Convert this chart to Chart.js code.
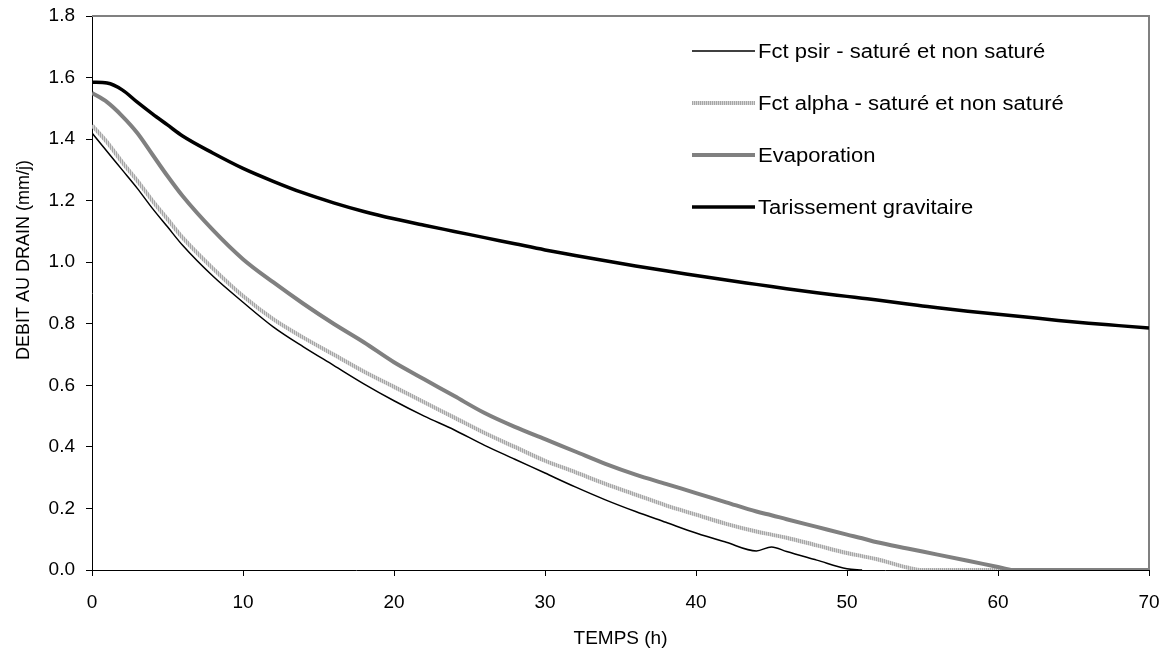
<!DOCTYPE html>
<html>
<head>
<meta charset="utf-8">
<script src="https://cdn.jsdelivr.net/npm/chart.js@4"></script>
<style>
html,body{margin:0;padding:0;background:#fff;}
#wrap{width:1172px;height:652px;position:relative;}
</style>
</head>
<body>
<div id="wrap"><canvas id="c" width="1172" height="652"></canvas></div>
<script>
// ---- DATA ----
const temps = [0,1,2,3,4,5,6,8,10,12,14,16,18,20,22,24,26,28,30,32,34,36,38,40,42,44,45,46,48,50,51,52,54,55,56,58,60,61,62,64,66,68,70];

const psir = [1.42,1.36,1.30,1.24,1.175,1.115,1.055,0.955,0.87,0.79,0.725,0.665,0.605,0.55,0.50,0.455,0.405,0.36,0.315,0.27,0.228,0.19,0.155,0.12,0.09,0.062,0.075,0.06,0.032,0.004,0,
  null,null,null,null,null,null,null,null,null,null,null,null];

const alpha = [1.445,1.39,1.325,1.265,1.20,1.14,1.08,0.98,0.89,0.815,0.755,0.70,0.645,0.595,0.545,0.495,0.445,0.40,0.355,0.318,0.28,0.245,0.21,0.18,0.15,0.125,0.115,0.105,0.08,0.055,0.045,0.035,0.008,0,0,0,0,0,0,0,0,0,0];

const evaporation = [1.55,1.52,1.475,1.42,1.35,1.28,1.215,1.105,1.01,0.935,0.865,0.80,0.74,0.675,0.62,0.565,0.51,0.465,0.425,0.385,0.345,0.31,0.28,0.25,0.22,0.19,0.178,0.165,0.14,0.115,0.103,0.09,0.07,0.06,0.05,0.03,0.01,0,0,0,0,0,0];

const tarissement = [1.585,1.582,1.56,1.52,1.482,1.446,1.41,1.355,1.305,1.263,1.225,1.193,1.165,1.141,1.12,1.10,1.08,1.06,1.04,1.022,1.005,0.988,0.972,0.957,0.942,0.928,0.921,0.914,0.901,0.889,0.883,0.877,0.864,0.858,0.852,0.841,0.831,0.826,0.821,0.811,0.802,0.794,0.786];

const seriesLabels = ['Fct psir - saturé et non saturé','Fct alpha - saturé et non saturé','Evaporation','Tarissement gravitaire'];
const xTicks = [0,10,20,30,40,50,60,70];
const yTicks = [0,0.2,0.4,0.6,0.8,1.0,1.2,1.4,1.6,1.8];
const xTitle = 'TEMPS (h)';
const yTitle = 'DEBIT AU DRAIN (mm/j)';

// ---- STYLE ----
const FONT = '"Liberation Sans", Arial, sans-serif';
const canvas = document.getElementById('c');
const ctx0 = canvas.getContext('2d');
function stripePattern(a, b){
  const p = document.createElement('canvas');
  p.width = 2; p.height = 2;
  const g = p.getContext('2d');
  g.fillStyle = a; g.fillRect(0,0,1,2);
  g.fillStyle = b; g.fillRect(1,0,1,2);
  return ctx0.createPattern(p, 'repeat');
}
const alphaColor = stripePattern('#a6a6a6', '#d6d6d6');

function pts(ys){ return temps.map((t,i)=>({x:t, y:ys[i]})); }

const legendPlugin = {
  id: 'customLegend',
  afterDraw(chart){
    const ctx = chart.ctx;
    const ys = [51, 103, 155, 207];
    chart.data.datasets.forEach((ds, i) => {
      const y = ys[i];
      ctx.save();
      ctx.strokeStyle = ds.borderColor;
      ctx.lineWidth = ds.borderWidth;
      ctx.beginPath();
      ctx.moveTo(692, y); ctx.lineTo(755, y);
      ctx.stroke();
      ctx.fillStyle = '#000';
      ctx.font = '20px ' + FONT;
      ctx.textBaseline = 'middle';
      ctx.textAlign = 'left';
      ctx.translate(758, y + 1);
      ctx.scale(1.1, 1);
      ctx.fillText(ds.label, 0, 0);
      ctx.restore();
    });
    // y axis title
    ctx.save();
    ctx.fillStyle = '#000';
    ctx.font = '18px ' + FONT;
    ctx.textAlign = 'center';
    ctx.textBaseline = 'middle';
    ctx.translate(24, 260);
    ctx.rotate(-Math.PI / 2);
    ctx.fillText(yTitle, 0, 0);
    ctx.restore();
  }
};
const framePlugin = {
  id: 'frame',
  beforeDatasetsDraw(chart){
    const {ctx, chartArea: a} = chart;
    ctx.save();
    ctx.strokeStyle = '#808080';
    ctx.lineWidth = 2;
    ctx.beginPath();
    ctx.moveTo(a.left, a.top);
    ctx.lineTo(a.right, a.top);
    ctx.lineTo(a.right, a.bottom);
    ctx.stroke();
    ctx.restore();
  }
};

new Chart(canvas, {
  type: 'line',
  data: {
    datasets: [
      {label: seriesLabels[0], data: pts(psir), borderColor: '#000000', borderWidth: 1.5, order: 4},
      {label: seriesLabels[1], data: pts(alpha), borderColor: alphaColor, borderWidth: 4, order: 3},
      {label: seriesLabels[2], data: pts(evaporation), borderColor: '#808080', borderWidth: 4, order: 2},
      {label: seriesLabels[3], data: pts(tarissement), borderColor: '#000000', borderWidth: 3.5, order: 1}
    ]
  },
  options: {
    responsive: false,
    animation: false,
    devicePixelRatio: 1,
    spanGaps: false,
    elements: { point: { radius: 0 }, line: { cubicInterpolationMode: 'monotone', borderCapStyle: 'butt', borderJoinStyle: 'round' } },
    layout: { padding: { top: 16, right: 23, left: 0, bottom: 0 } },
    plugins: { legend: { display: false }, tooltip: { enabled: false } },
    scales: {
      x: {
        type: 'linear', min: 0, max: 70,
        afterFit(s){ s.height = 82; s.paddingLeft = 0; s.paddingRight = 0; },
        afterBuildTicks(s){ s.ticks = xTicks.map(v => ({value: v})); },
        grid: { drawOnChartArea: false, drawTicks: true, tickLength: 6, color: '#000' },
        border: { color: '#000', width: 1 },
        ticks: { color: '#000', font: { family: FONT, size: 19 }, padding: 15, maxRotation: 0 },
        title: { display: true, text: xTitle, color: '#000', font: { family: FONT, size: 19 }, padding: { top: 0, bottom: 2 } }
      },
      y: {
        type: 'linear', min: 0, max: 1.8,
        afterFit(s){ s.width = 92; s.paddingTop = 0; s.paddingBottom = 0; },
        afterBuildTicks(s){ s.ticks = yTicks.map(v => ({value: v})); },
        grid: { drawOnChartArea: false, drawTicks: true, tickLength: 6, color: '#000' },
        border: { color: '#000', width: 1 },
        ticks: { color: '#000', font: { family: FONT, size: 19 }, padding: 11, callback: v => Number(v).toFixed(1) },
        title: { display: false }
      }
    }
  },
  plugins: [framePlugin, legendPlugin]
});
</script>
</body>
</html>
